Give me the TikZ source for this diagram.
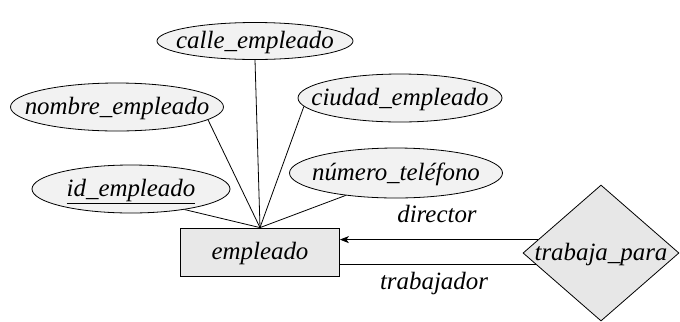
\documentclass[tikz,border=0pt]{standalone}
\usepackage{fontspec}
\setmainfont{Liberation Serif}
\usetikzlibrary{shapes.geometric,arrows.meta}
\newcommand\ctext[1]{\makebox[0pt]{\smash{\raisebox{-0.32em}{#1}}}}
\begin{document}
\begin{tikzpicture}[x=1bp,y=-1bp,
  lbl/.style={font=\fontsize{25}{29}\selectfont\itshape},
  attr/.style={ellipse,draw,fill=gray!10,line width=0.8bp,minimum width=#1,minimum height=48bp,inner sep=0pt,lbl},
  entity/.style={rectangle,draw,fill=gray!18,line width=0.8bp,minimum width=159bp,minimum height=48bp,inner sep=0pt,lbl},
  rel/.style={diamond,draw,fill=gray!19,line width=0.8bp,minimum width=156bp,minimum height=136bp,inner sep=0pt,lbl},
  conn/.style={line width=0.8bp}]
\useasboundingbox (0,0) rectangle (680,321);
\node[attr=196bp,minimum height=37bp] (calle) at (255,41) {\ctext{calle\_empleado}};
\node[attr=213bp] (nombre) at (117,107) {\ctext{nombre\_empleado}};
\node[attr=204bp] (ciudad) at (400,98) {\ctext{ciudad\_empleado}};
\node[attr=213bp,minimum height=50bp] (numero) at (396,173) {\ctext{número\_teléfono}};
\node[attr=198bp] (id) at (131,189) {\ctext{\underline{id\_empleado}}};
\node[entity] (emp) at (260,252) {\ctext{empleado}};
\node[rel] (trab) at (601,253) {\ctext{trabaja\_para}};
\coordinate (top) at (emp.north);
\draw[conn] (calle.south) -- (top);
\draw[conn] (nombre.-8) -- (top);
\draw[conn] (ciudad.185) -- (top);
\draw[conn] (numero.204) -- (top);
\draw[conn] (id.-21) -- (top);
\draw[conn,-{Stealth[length=9bp,width=7bp,inset=2.5bp]}] (trab.168.3) -- (emp.east |- trab.168.3);
\draw[conn] (trab.190.6) -- (emp.east |- trab.190.6);
\node[lbl] (dir) at (437,214) {director};
\node[lbl] (trj) at (434,284) {trabajador};
\end{tikzpicture}
\end{document}
